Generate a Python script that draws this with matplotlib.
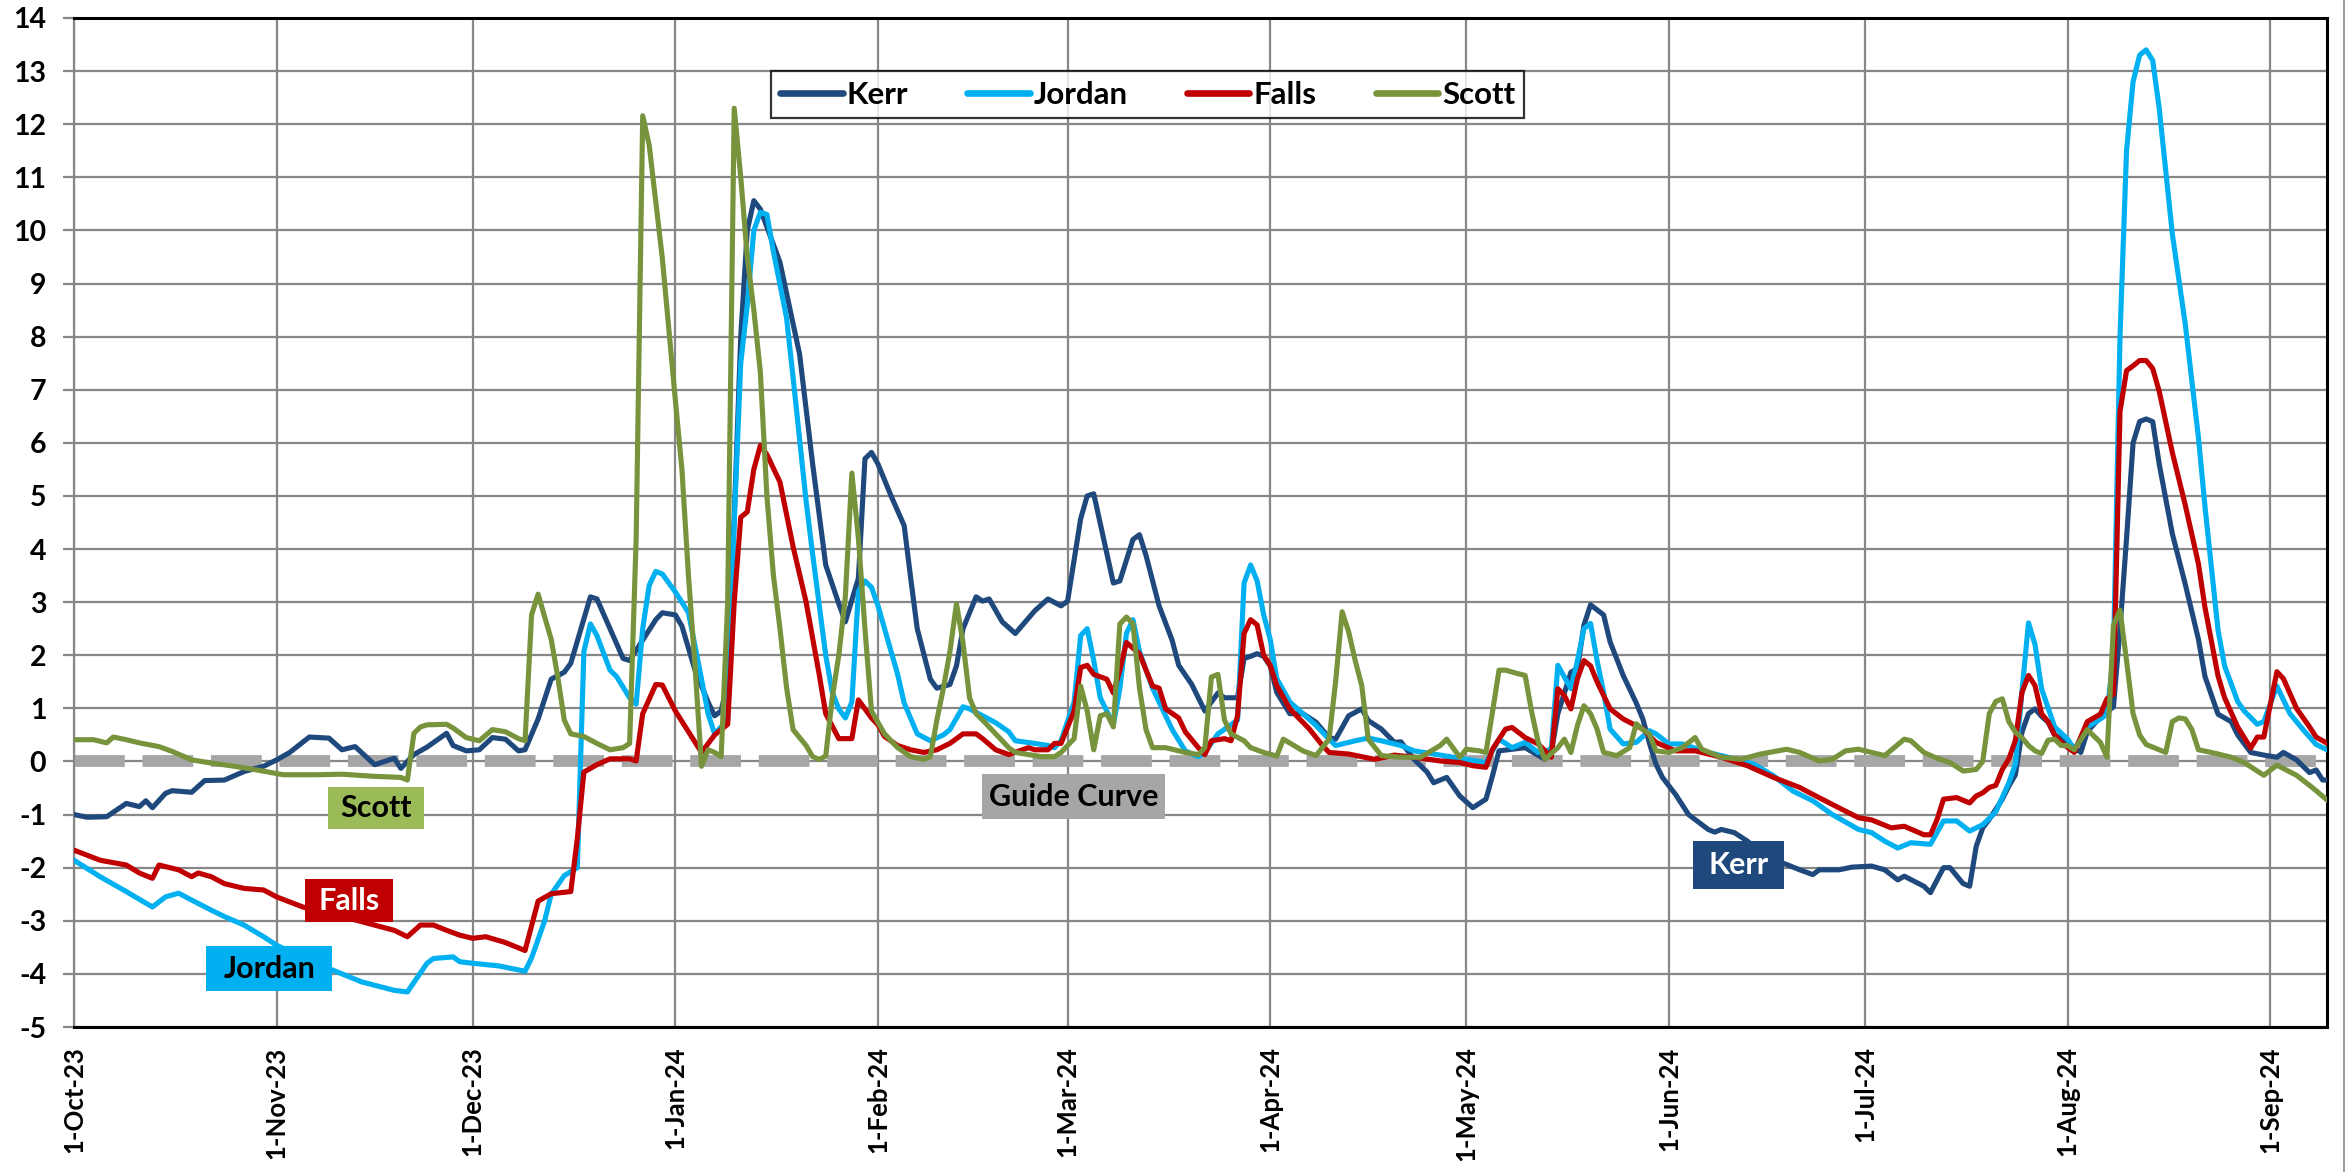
import matplotlib
matplotlib.use("Agg")
import matplotlib.pyplot as plt
import pandas as pd
from matplotlib.lines import Line2D
from matplotlib.patches import Rectangle

plt.rcParams['font.family'] = ['Lato', 'DejaVu Sans']
plt.rcParams['font.weight'] = 'bold'

# ---------------- data ----------------
kerr_dates = ["10-01","10-03","10-06","10-09","10-11","10-12","10-13","10-15","10-16","10-19","10-21","10-24","10-27","10-30",
 "11-01","11-03","11-06","11-09","11-11","11-13","11-16","11-19","11-20","11-22","11-24","11-27","11-28","11-30",
 "12-02","12-04","12-06","12-08","12-09","12-11","12-13","12-15","12-16","12-19","12-20","12-22","12-24","12-25","12-29","12-30",
 "01-01","01-02","01-04","01-06","01-07","01-08","01-09","01-10","01-11","01-12","01-13","01-14","01-17","01-20","01-21","01-22",
 "01-24","01-26","01-27","01-29","01-30","01-31","02-01","02-03","02-05","02-06","02-07","02-09","02-10","02-12","02-13","02-14",
 "02-15","02-16","02-17","02-18","02-20","02-22","02-25","02-27","02-29","03-01","03-03","03-04","03-05","03-08","03-09","03-11",
 "03-12","03-13","03-15","03-17","03-18","03-20","03-22","03-24","03-25","03-27","03-28","03-29","03-30","03-31","04-01","04-02",
 "04-04","04-06","04-08","04-10","04-11","04-13","04-15","04-16","04-18","04-20","04-21","04-23","04-25","04-26","04-28","04-30",
 "05-02","05-04","05-05","05-06","05-10","05-13","05-14","05-15","05-17","05-18","05-19","05-20","05-22","05-23","05-25","05-27",
 "05-28","05-29","05-30","05-31","06-01","06-02","06-04","06-07","06-08","06-09","06-11","06-13","06-16","06-19","06-21","06-23",
 "06-24","06-27","06-29","07-02","07-04","07-06","07-07","07-10","07-11","07-13","07-14","07-16","07-17","07-18","07-19","07-20",
 "07-22","07-23","07-24","07-25","07-26","07-27","07-28","07-29","07-30","08-01","08-03","08-04","08-06","08-08","08-09","08-10",
 "08-11","08-12","08-13","08-14","08-15","08-17","08-19","08-21","08-22","08-24","08-26","08-27","08-29","08-31","09-02","09-03",
 "09-05","09-07","09-08","09-09","09-10"]
kerr_vals = [-1.00,-1.05,-1.04,-0.79,-0.85,-0.74,-0.87,-0.60,-0.55,-0.58,-0.36,-0.35,-0.19,-0.09,
 0.03,0.17,0.46,0.44,0.22,0.28,-0.06,0.06,-0.13,0.13,0.27,0.53,0.30,0.20,
 0.22,0.45,0.42,0.20,0.22,0.80,1.55,1.68,1.85,3.10,3.06,2.50,1.94,1.90,2.67,2.80,
 2.76,2.55,1.72,1.12,0.86,0.95,1.50,4.60,8.00,10.00,10.56,10.40,9.40,7.67,6.64,5.60,
 3.70,2.97,2.63,3.45,5.70,5.82,5.60,5.00,4.44,3.45,2.50,1.55,1.38,1.45,1.80,2.50,
 2.80,3.10,3.02,3.06,2.63,2.41,2.84,3.06,2.93,3.02,4.57,5.00,5.04,3.36,3.40,4.18,
 4.27,3.88,2.93,2.28,1.81,1.45,0.95,1.29,1.20,1.20,1.94,1.98,2.03,1.98,1.80,1.30,
 0.90,0.90,0.74,0.45,0.42,0.86,0.99,0.77,0.61,0.36,0.37,0.04,-0.20,-0.40,-0.30,-0.65,
 -0.87,-0.71,-0.27,0.20,0.26,0.04,0.17,0.90,1.68,1.75,2.57,2.95,2.76,2.25,1.62,1.10,
 0.80,0.35,-0.05,-0.30,-0.46,-0.62,-1.00,-1.28,-1.33,-1.28,-1.34,-1.50,-1.80,-1.94,-2.04,-2.13,
 -2.04,-2.04,-1.99,-1.97,-2.04,-2.23,-2.16,-2.35,-2.47,-2.00,-2.00,-2.30,-2.35,-1.60,-1.25,-1.09,
 -0.71,-0.46,-0.25,0.55,0.90,0.99,0.85,0.74,0.50,0.36,0.17,0.56,0.84,1.03,2.50,4.20,
 6.00,6.40,6.45,6.40,5.60,4.29,3.33,2.30,1.60,0.89,0.75,0.50,0.17,0.12,0.08,0.17,
 0.03,-0.21,-0.16,-0.35,-0.35]

jordan_dates = ["10-01","10-05","10-09","10-13","10-15","10-17","10-19","10-22","10-24","10-27","10-30","11-01","11-05","11-09",
 "11-14","11-19","11-21","11-24","11-25","11-28","11-29","12-01","12-05","12-09","12-10","12-12","12-13","12-15","12-17","12-18",
 "12-19","12-20","12-22","12-23","12-25","12-26","12-27","12-28","12-29","12-30","01-01","01-02","01-03","01-05","01-06","01-07",
 "01-08","01-09","01-10","01-11","01-12","01-13","01-14","01-15","01-16","01-18","01-19","01-21","01-22","01-24","01-25","01-26",
 "01-27","01-28","01-29","01-30","01-31","02-01","02-02","02-03","02-04","02-05","02-07","02-09","02-11","02-12","02-14","02-15",
 "02-17","02-19","02-21","02-22","02-25","02-27","02-28","02-29","03-02","03-03","03-04","03-05","03-06","03-07","03-08","03-09",
 "03-10","03-11","03-12","03-14","03-16","03-17","03-19","03-21","03-22","03-24","03-26","03-27","03-28","03-29","03-30","03-31",
 "04-01","04-02","04-04","04-06","04-08","04-10","04-11","04-14","04-16","04-18","04-21","04-23","04-26","04-29","05-04","05-06",
 "05-08","05-10","05-12","05-14","05-15","05-17","05-18","05-19","05-20","05-21","05-22","05-23","05-25","05-27","05-29","05-30",
 "06-01","06-03","06-07","06-10","06-14","06-17","06-20","06-23","06-26","06-30","07-02","07-04","07-06","07-08","07-11","07-13",
 "07-15","07-17","07-19","07-21","07-23","07-24","07-25","07-26","07-27","07-28","07-30","08-01","08-02","08-04","08-06","08-07",
 "08-08","08-09","08-10","08-11","08-12","08-13","08-14","08-15","08-17","08-19","08-21","08-22","08-24","08-25","08-27","08-28",
 "08-30","08-31","09-02","09-04","09-06","09-08","09-10"]
jordan_vals = [-1.86,-2.17,-2.45,-2.74,-2.55,-2.48,-2.61,-2.80,-2.92,-3.08,-3.30,-3.46,-3.70,-3.90,
 -4.15,-4.31,-4.34,-3.80,-3.71,-3.68,-3.77,-3.80,-3.85,-3.95,-3.70,-3.00,-2.50,-2.15,-2.00,2.07,
 2.59,2.37,1.72,1.60,1.20,1.08,2.50,3.32,3.58,3.53,3.19,3.00,2.80,1.55,0.90,0.52,
 0.65,0.78,4.50,7.50,8.60,10.00,10.34,10.30,9.60,8.36,7.24,4.90,3.90,2.00,1.30,0.99,
 0.82,1.12,3.20,3.40,3.28,2.93,2.50,2.07,1.64,1.10,0.52,0.39,0.50,0.60,1.03,0.99,
 0.86,0.73,0.56,0.39,0.34,0.30,0.26,0.39,1.12,2.37,2.50,1.90,1.20,0.95,0.69,1.38,
 2.41,2.67,2.07,1.38,0.86,0.60,0.20,0.09,0.17,0.52,0.69,0.78,3.36,3.70,3.40,2.76,
 2.30,1.56,1.12,0.90,0.68,0.42,0.30,0.39,0.44,0.39,0.30,0.20,0.14,0.08,-0.02,0.42,
 0.26,0.36,0.17,0.23,1.81,1.37,1.90,2.50,2.60,1.90,1.30,0.61,0.33,0.36,0.58,0.52,
 0.33,0.33,0.17,0.08,-0.05,-0.27,-0.56,-0.74,-1.00,-1.28,-1.34,-1.50,-1.63,-1.53,-1.56,-1.12,
 -1.12,-1.31,-1.19,-0.95,-0.40,-0.05,1.32,2.61,2.20,1.37,0.65,0.42,0.22,0.65,0.80,0.89,
 2.00,8.00,11.50,12.80,13.30,13.40,13.20,12.30,9.94,8.22,6.10,4.80,2.47,1.80,1.13,0.95,
 0.70,0.75,1.42,0.90,0.60,0.32,0.20]

falls_dates = ["10-01","10-05","10-09","10-11","10-13","10-14","10-17","10-19","10-20","10-22","10-24","10-27","10-30","11-01",
 "11-05","11-12","11-19","11-21","11-23","11-25","11-27","11-29","12-01","12-03","12-06","12-09","12-11","12-13","12-16","12-17",
 "12-18","12-20","12-22","12-25","12-26","12-27","12-29","12-30","01-01","01-05","01-07","01-08","01-09","01-10","01-11","01-12",
 "01-13","01-14","01-15","01-17","01-19","01-21","01-23","01-24","01-26","01-28","01-29","01-30","01-31","02-01","02-02","02-04",
 "02-06","02-08","02-10","02-12","02-14","02-16","02-17","02-19","02-21","02-24","02-25","02-27","02-28","02-29","03-02","03-03",
 "03-04","03-05","03-07","03-08","03-09","03-10","03-12","03-13","03-14","03-15","03-16","03-18","03-19","03-21","03-22","03-23",
 "03-25","03-26","03-27","03-28","03-29","03-30","03-31","04-01","04-02","04-04","04-07","04-09","04-10","04-13","04-17","04-20",
 "04-23","04-27","04-30","05-02","05-04","05-05","05-07","05-08","05-10","05-12","05-14","05-15","05-16","05-17","05-18","05-19",
 "05-20","05-21","05-23","05-25","05-28","05-30","06-02","06-05","06-09","06-13","06-17","06-21","06-23","06-26","06-30","07-02",
 "07-05","07-07","07-10","07-11","07-12","07-13","07-15","07-17","07-18","07-19","07-20","07-21","07-22","07-23","07-24","07-25",
 "07-26","07-27","07-28","07-29","07-30","07-31","08-02","08-04","08-06","08-07","08-08","08-09","08-10","08-11","08-12","08-13",
 "08-14","08-15","08-17","08-19","08-21","08-22","08-24","08-25","08-27","08-28","08-29","08-30","08-31","09-02","09-03","09-05",
 "09-07","09-08","09-10"]
falls_vals = [-1.67,-1.86,-1.95,-2.10,-2.20,-1.95,-2.04,-2.17,-2.10,-2.17,-2.30,-2.39,-2.42,-2.55,
 -2.74,-2.95,-3.18,-3.30,-3.08,-3.08,-3.18,-3.27,-3.33,-3.30,-3.41,-3.56,-2.63,-2.49,-2.45,-1.45,
 -0.20,-0.06,0.05,0.05,0.01,0.90,1.45,1.44,0.95,0.17,0.50,0.60,0.70,3.00,4.60,4.70,
 5.50,5.95,5.78,5.26,4.05,3.00,1.64,0.90,0.43,0.43,1.16,0.99,0.82,0.69,0.47,0.30,
 0.22,0.17,0.22,0.34,0.52,0.52,0.43,0.22,0.13,0.26,0.22,0.22,0.34,0.34,0.95,1.77,
 1.81,1.64,1.55,1.29,1.72,2.24,2.03,1.72,1.42,1.38,0.99,0.82,0.56,0.26,0.13,0.39,
 0.43,0.39,0.86,2.41,2.67,2.57,2.00,1.81,1.43,0.99,0.61,0.30,0.17,0.14,0.04,0.12,
 0.08,0.01,-0.02,-0.08,-0.11,0.23,0.61,0.64,0.45,0.33,0.08,1.37,1.24,0.99,1.56,1.90,
 1.80,1.50,0.99,0.80,0.61,0.36,0.20,0.20,0.08,-0.08,-0.30,-0.49,-0.62,-0.81,-1.06,-1.10,
 -1.25,-1.22,-1.38,-1.38,-1.10,-0.71,-0.68,-0.78,-0.65,-0.59,-0.49,-0.45,-0.15,0.05,0.40,1.30,
 1.62,1.43,0.90,0.75,0.50,0.36,0.17,0.75,0.89,1.18,1.27,6.59,7.36,7.45,7.55,7.55,
 7.40,6.97,5.82,4.82,3.72,2.90,1.61,1.20,0.65,0.45,0.25,0.46,0.46,1.69,1.56,1.00,
 0.65,0.46,0.32]

scott_dates = ["10-01","10-04","10-06","10-07","10-09","10-11","10-14","10-16","10-19","10-22","10-25","10-29","11-02","11-07",
 "11-11","11-16","11-20","11-21","11-22","11-23","11-24","11-27","11-28","11-30","12-02","12-04","12-06","12-08","12-09","12-10",
 "12-11","12-13","12-14","12-15","12-16","12-18","12-20","12-22","12-24","12-25","12-26","12-27","12-28","12-30","01-01","01-02",
 "01-03","01-04","01-05","01-06","01-07","01-08","01-09","01-10","01-11","01-12","01-13","01-14","01-15","01-16","01-17","01-18",
 "01-19","01-21","01-22","01-23","01-24","01-25","01-26","01-27","01-28","01-29","01-30","01-31","02-02","02-04","02-06","02-08",
 "02-09","02-10","02-11","02-12","02-13","02-14","02-15","02-16","02-17","02-19","02-21","02-22","02-24","02-26","02-28","02-29",
 "03-02","03-03","03-04","03-05","03-06","03-07","03-08","03-09","03-10","03-11","03-12","03-13","03-14","03-16","03-19","03-21",
 "03-22","03-23","03-24","03-25","03-26","03-28","03-29","03-31","04-02","04-03","04-06","04-08","04-10","04-11","04-12","04-13",
 "04-14","04-15","04-16","04-18","04-21","04-24","04-27","04-28","04-30","05-01","05-03","05-04","05-05","05-06","05-07","05-09",
 "05-10","05-11","05-12","05-13","05-15","05-16","05-17","05-18","05-19","05-20","05-21","05-22","05-24","05-26","05-27","05-28",
 "05-29","05-30","06-01","06-03","06-05","06-06","06-09","06-12","06-15","06-19","06-21","06-24","06-26","06-28","06-30","07-04",
 "07-07","07-08","07-10","07-12","07-14","07-16","07-18","07-19","07-20","07-21","07-22","07-23","07-24","07-25","07-26","07-27",
 "07-28","07-29","07-30","07-31","08-01","08-02","08-04","08-06","08-07","08-08","08-09","08-10","08-11","08-12","08-13","08-14",
 "08-16","08-17","08-18","08-19","08-20","08-21","08-23","08-26","08-28","08-31","09-02","09-05","09-07","09-08","09-10"]
scott_vals = [0.41,0.41,0.35,0.46,0.41,0.35,0.28,0.19,0.03,-0.03,-0.08,-0.16,-0.25,-0.25,
 -0.24,-0.28,-0.30,-0.35,0.53,0.65,0.69,0.70,0.63,0.45,0.39,0.60,0.56,0.43,0.39,2.76,
 3.15,2.30,1.60,0.78,0.52,0.47,0.34,0.22,0.26,0.34,4.20,12.16,11.60,9.48,6.80,5.50,
 3.50,1.80,-0.09,0.22,0.17,0.09,3.00,12.30,11.00,9.50,8.50,7.33,5.00,3.50,2.50,1.40,
 0.60,0.30,0.09,0.04,0.10,1.20,2.00,3.10,5.43,4.20,2.50,0.95,0.52,0.26,0.09,0.04,
 0.09,0.78,1.38,2.07,2.97,2.24,1.20,0.90,0.78,0.52,0.26,0.17,0.13,0.09,0.09,0.17,
 0.43,1.42,0.95,0.22,0.86,0.90,0.65,2.59,2.72,2.59,1.38,0.60,0.26,0.26,0.17,0.13,
 0.26,1.59,1.64,0.78,0.52,0.39,0.26,0.17,0.10,0.42,0.20,0.11,0.42,1.50,2.82,2.44,
 1.90,1.43,0.42,0.11,0.08,0.08,0.30,0.42,0.08,0.23,0.20,0.17,0.93,1.72,1.72,1.65,
 1.62,0.93,0.36,0.04,0.26,0.42,0.17,0.68,1.05,0.90,0.61,0.17,0.11,0.26,0.71,0.60,
 0.52,0.20,0.17,0.26,0.45,0.23,0.08,0.04,0.14,0.23,0.17,0.01,0.04,0.20,0.23,0.11,
 0.42,0.39,0.17,0.06,-0.02,-0.18,-0.15,0.00,0.90,1.13,1.18,0.75,0.55,0.45,0.30,0.20,
 0.15,0.40,0.42,0.30,0.30,0.22,0.60,0.36,0.08,2.57,2.85,1.90,0.90,0.50,0.32,0.27,
 0.17,0.75,0.82,0.80,0.60,0.22,0.17,0.08,-0.02,-0.26,-0.07,-0.26,-0.45,-0.55,-0.76]

series_names = ["Kerr", "Jordan", "Falls", "Scott"]
series_colors = ["#1F497D", "#00B0F0", "#C00000", "#77933C"]
guide_value = 0.0
guide_label = "Guide Curve"
x_start, x_end = "2023-10-01 00:00", "2024-09-09 16:00"
tick_dates = ["2023-10-01","2023-11-01","2023-12-01","2024-01-01","2024-02-01","2024-03-01",
              "2024-04-01","2024-05-01","2024-06-01","2024-07-01","2024-08-01","2024-09-01"]
tick_labels = ["1-Oct-23","1-Nov-23","1-Dec-23","1-Jan-24","1-Feb-24","1-Mar-24",
               "1-Apr-24","1-May-24","1-Jun-24","1-Jul-24","1-Aug-24","1-Sep-24"]
y_ticks = list(range(-5, 15))


def to_dates(md):
    return pd.to_datetime([("2023-" if int(s[:2]) >= 10 else "2024-") + s for s in md])


series = [(kerr_dates, kerr_vals), (jordan_dates, jordan_vals),
          (falls_dates, falls_vals), (scott_dates, scott_vals)]

fig = plt.figure(figsize=(23.48, 11.72), dpi=100)
ax = fig.add_axes([74/2348, 1-1027/1172, (2327-74)/2348, (1027-18)/1172])

grid_c = "#878787"
ax.set_axisbelow(True)
ax.grid(True, color=grid_c, linewidth=1.6)

t0, t1 = pd.Timestamp(x_start), pd.Timestamp(x_end)

# guide curve
ax.plot([t0, t1], [guide_value, guide_value], color="#A6A6A6",
        linewidth=8.5, dashes=(4.3, 1.5), solid_capstyle='butt', dash_capstyle='butt', zorder=2)

for (d, v), name, col in zip(series, series_names, series_colors):
    n = min(len(d), len(v))
    ax.plot(to_dates(d[:n]), v[:n], color=col, linewidth=3.7, label=name, zorder=3,
            solid_joinstyle='round')

ax.set_xlim(t0, t1)
ax.set_ylim(-5, 14)
ax.set_yticks(y_ticks)
ax.set_yticklabels([str(t) for t in y_ticks])
ax.set_xticks(pd.to_datetime(tick_dates))
ax.set_xticklabels(tick_labels, rotation=90)
ax.tick_params(axis='y', labelsize=20.5, length=8, width=1.6, color=grid_c, pad=12)
ax.tick_params(axis='x', labelsize=18.5, length=0, pad=14)
for lab in ax.get_xticklabels() + ax.get_yticklabels():
    lab.set_fontweight('bold')

for s in ['top', 'right', 'bottom']:
    ax.spines[s].set_color('black')
    ax.spines[s].set_linewidth(2.2)
ax.spines['left'].set_color(grid_c)
ax.spines['left'].set_linewidth(1.6)

leg_handles = [Line2D([0], [0], color=c, linewidth=4.8, solid_capstyle='round') for c in series_colors]
leg = ax.legend(leg_handles, series_names, loc='center', bbox_to_anchor=(0.4765, 0.924), ncol=4,
                frameon=True, fancybox=False, edgecolor='black',
                handlelength=2.0, handletextpad=0.12, columnspacing=1.9,
                borderpad=0.3, borderaxespad=0, prop={'weight': 'bold', 'size': 22.5})
leg.get_frame().set_linewidth(1.6)
leg.set_zorder(5)


def box_label(d0, d1, y_top, y_bot, text, face, tcolor):
    x0, x1 = pd.Timestamp(d0), pd.Timestamp(d1)
    ax.add_patch(Rectangle((x0, y_bot), x1 - x0, y_top - y_bot, facecolor=face,
                           edgecolor='none', zorder=6))
    ax.text(x0 + (x1 - x0) / 2, (y_top + y_bot) / 2, text, ha='center', va='center',
            fontsize=22, fontweight='bold', color=tcolor, zorder=7)


box_label("2023-11-08 22:00", "2023-11-23 12:00", -0.49, -1.28, "Scott", "#9BBB59", "black")
box_label("2023-11-05 07:00", "2023-11-18 19:00", -2.22, -3.03, "Falls", "#C00000", "white")
box_label("2023-10-21 05:00", "2023-11-09 12:00", -3.47, -4.33, "Jordan", "#00B0F0", "black")
box_label("2024-06-04 17:00", "2024-06-18 14:00", -1.49, -2.41, "Kerr", "#1F497D", "white")
box_label("2024-02-16 22:00", "2024-03-15 22:00", -0.24, -1.09, guide_label, "#A6A6A6", "black")

fig.add_artist(Line2D([0.9985, 0.9985], [0, 1], transform=fig.transFigure, color="#A0A0A0", linewidth=1.5))

fig.savefig("out.png", dpi=100)
